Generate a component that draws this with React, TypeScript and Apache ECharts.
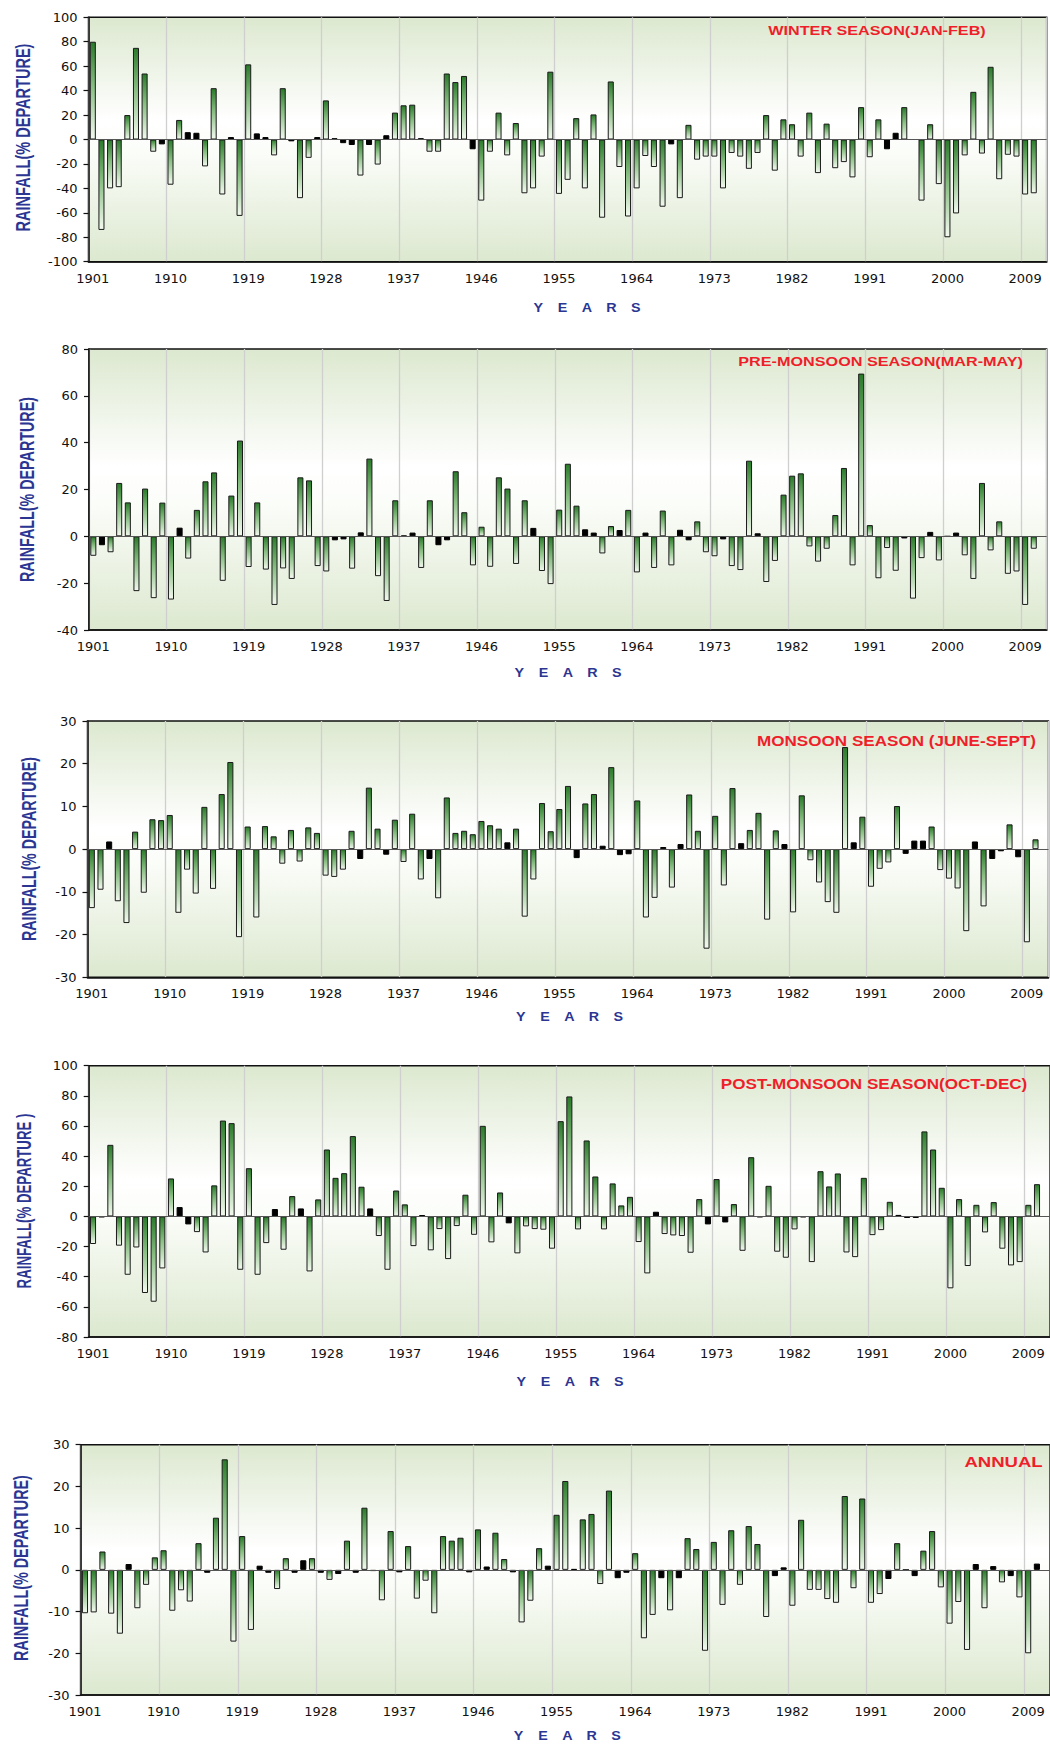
import { useEffect, useRef } from 'react';
import * as echarts from 'echarts';

// ---------- categories ----------
const FIRST_YEAR = 1901;
const LAST_YEAR = 2011;
const YEARS: string[] = [];
for (let y = FIRST_YEAR; y <= LAST_YEAR; y++) YEARS.push(String(y));

// ---------- series values (% departure), 1901..2010 ----------
const WINTER = [
  80, -74, -40, -39, 20, 75, 54, -10, -4, -37,
  16, 6, 5.5, -22, 42, -45, 2, -62.5, 61.5, 5,
  2, -13, 42, -1.5, -48, -15, 2, 32, 1, -3,
  -4.5, -29.5, -4.5, -20.5, 3.5, 22, 28, 28.5, 1, -10,
  -10, 54, 47, 52, -8, -50, -10, 22, -13, 13.5,
  -44, -40, -14, 55.5, -44.5, -33, 17.5, -40, 20.5, -64,
  47.5, -22.5, -63, -40, -13.5, -22.5, -55, -4, -48, 12,
  -16.5, -14, -14, -40, -11, -14, -24, -11, 20, -25.5,
  16.5, 12.5, -14, 22, -27.5, 13, -23.5, -18.5, -31, 26.5,
  -14.5, 16.5, -8, 5.5, 26.5, 0, -50, 12.5, -36.5, -80,
  -60.5, -13, 39, -11.5, 59.5, -32.5, -12.5, -14, -45, -44,
];
const PRE_MONSOON = [
  -8.3, -3.8, -6.8, 22.8, 14.5, -23.4, 20.4, -26.4, 14.4, -27,
  3.7, -9.5, 11.3, 23.5, 27.3, -19, 17.4, 40.9, -13.1, 14.5,
  -14.2, -29.3, -13.7, -18.2, 25.2, 23.9, -12.7, -15, -1.7, -1.3,
  -13.8, 1.7, 33.2, -17, -27.6, 15.4, 0.3, 1.6, -13.5, 15.4,
  -3.8, -1.7, 27.8, 10.3, -12.4, 4.1, -13, 25.2, 20.4, -11.8,
  15.4, 3.6, -14.8, -20.4, 11.4, 31, 13.1, 3, 1.6, -7.3,
  4.4, 2.7, 11.3, -15.4, 1.6, -13.5, 11, -12.4, 2.8, -1.7,
  6.4, -6.8, -8.5, -1.3, -12.7, -14.4, 32.3, 1.3, -19.5, -10.5,
  17.8, 25.9, 26.9, -4.3, -10.8, -5.3, 9.1, 29.2, -12.4, 69.5,
  4.8, -17.9, -5, -14.7, -0.9, -26.6, -9.3, 1.9, -10.3, 0,
  1.6, -8.1, -18.2, 22.8, -6, 6.4, -16, -15, -29.3, -5.3,
];
const MONSOON = [
  -13.8, -9.5, 1.8, -12.2, -17.3, 4.1, -10.2, 7, 6.8, 8,
  -14.9, -4.8, -10.4, 9.9, -9.3, 12.9, 20.4, -20.6, 5.3, -16,
  5.4, 3, -3.4, 4.5, -2.9, 5.1, 3.8, -6.2, -6.5, -4.8,
  4.3, -2.3, 14.4, 4.8, -1.3, 6.9, -3, 8.3, -7.1, -2.3,
  -11.5, 12.1, 3.8, 4.3, 3.5, 6.6, 5.6, 4.8, 1.6, 4.8,
  -15.8, -7.1, 10.8, 4.2, 9.4, 14.8, -2.1, 10.7, 12.9, 0.8,
  19.2, -1.4, -1.2, 11.4, -16, -11.4, 0.5, -9, 1.2, 12.8,
  4.3, -23.3, 7.8, -8.5, 14.3, 1.4, 4.5, 8.5, -16.5, 4.4,
  1.2, -14.8, 12.6, -2.6, -7.8, -12.4, -14.9, 23.9, 1.6, 7.6,
  -8.8, -4.6, -3.1, 10.1, -1.1, 2, 2, 5.3, -4.9, -6.9,
  -9.2, -19.2, 1.8, -13.4, -2.3, -0.5, 5.8, -1.9, -21.8, 2.3,
];
const POST_MONSOON = [
  -18.3, -0.5, 47.5, -19.4, -38.7, -20.6, -50.8, -56.6, -34.5, 25.2,
  6.2, -5.3, -10.4, -23.9, 20.6, 63.6, 61.9, -35.4, 32, -38.7,
  -17.7, 4.9, -22.1, 13.5, 5.3, -36.5, 11.3, 44.4, 25.6, 28.7,
  53.3, 19.7, 5.3, -13, -35.4, 17.2, 8, -19.7, 0.9, -22.5,
  -8.4, -28.3, -6.4, 14.4, -12.2, 60.1, -17.2, 15.9, -4.6, -24.5,
  -6.6, -8.4, -8.8, -21.4, 63.2, 79.6, -8.6, 50.4, 26.5, -8.6,
  21.9, 7.3, 13, -17, -37.8, 3.1, -11.7, -12.6, -13, -24.1,
  11.5, -5.3, 24.8, -4, 8.2, -22.8, 39.3, -0.5, 20.3, -23.4,
  -27.4, -8.6, -0.5, -30.3, 30, 19.9, 28.5, -23.9, -27, 25.6,
  -12.4, -9.1, 9.7, 1, -1, -1, 56.4, 44.4, 19, -47.7,
  11.5, -32.9, 7.7, -10.6, 9.5, -21.4, -32.5, -30.3, 7.7, 21.4,
];
const ANNUAL = [
  -10.4, -10.2, 4.4, -10.5, -15.3, 1.4, -9.2, -3.6, 3, 4.7,
  -9.8, -4.9, -7.6, 6.4, -0.7, 12.5, 26.5, -17.2, 8.1, -14.4,
  1, -0.7, -4.6, 2.8, -0.7, 2.3, 2.8, -0.7, -2.4, -1,
  7, -0.7, 14.9, -0.3, -7.3, 9.3, -0.6, 5.7, -6.9, -2.6,
  -10.4, 8.1, 7, 7.7, -0.6, 9.7, 0.8, 8.9, 2.6, -0.6,
  -12.6, -7.4, 5.2, 1, 13.2, 21.3, 0.2, 12.1, 13.4, -3.4,
  19, -2, -0.7, 4, -16.4, -10.8, -2, -9.7, -2, 7.6,
  5, -19.4, 6.7, -8.4, 9.5, -3.6, 10.5, 6.2, -11.3, -1.5,
  0.6, -8.6, 12, -4.8, -4.8, -7, -7.9, 17.7, -4.4, 17.1,
  -7.9, -5.8, -2.2, 6.4, 0, -1.5, 4.6, 9.3, -4.2, -12.9,
  -7.7, -19.2, 1.4, -9.2, 0.9, -3, -1.5, -6.6, -20, 1.5,
];

// ---------- years whose bars are drawn solid black ----------
const WINTER_BLACK = [1909, 1912, 1913, 1917, 1920, 1921, 1924, 1927, 1929, 1930, 1931, 1933, 1935, 1939, 1945, 1968, 1993, 1994];
const PRE_MONSOON_BLACK = [1902, 1911, 1929, 1930, 1932, 1937, 1938, 1941, 1942, 1952, 1958, 1959, 1962, 1965, 1969, 1970, 1974, 1978, 1995, 1998, 2001];
const MONSOON_BLACK = [1903, 1932, 1935, 1940, 1949, 1957, 1960, 1962, 1963, 1967, 1969, 1976, 1981, 1989, 1995, 1996, 1997, 2003, 2005, 2006, 2008];
const POST_MONSOON_BLACK = [1902, 1911, 1912, 1922, 1925, 1933, 1939, 1949, 1966, 1972, 1974, 1978, 1983, 1994, 1995, 1996];
const ANNUAL_BLACK = [1906, 1915, 1921, 1922, 1925, 1926, 1928, 1930, 1932, 1934, 1937, 1945, 1947, 1950, 1954, 1957, 1962, 1963, 1967, 1969, 1980, 1981, 1993, 1996, 2003, 2005, 2007, 2010];

// ---------- tick settings ----------
const Y_RANGES = [
  { min: -100, max: 100, interval: 20 },
  { min: -40, max: 80, interval: 20 },
  { min: -30, max: 30, interval: 10 },
  { min: -80, max: 100, interval: 20 },
  { min: -30, max: 30, interval: 10 },
];
const TITLES = [
  'WINTER SEASON(JAN-FEB)',
  'PRE-MONSOON SEASON(MAR-MAY)',
  'MONSOON SEASON (JUNE-SEPT)',
  'POST-MONSOON SEASON(OCT-DEC)',
  'ANNUAL',
];
const Y_NAMES = [
  'RAINFALL(% DEPARTURE)',
  'RAINFALL(% DEPARTURE)',
  'RAINFALL(% DEPARTURE)',
  'RAINFALL(% DEPARTURE )',
  'RAINFALL(% DEPARTURE)',
];
const X_NAME_LETTERS = ['Y', 'E', 'A', 'R', 'S'];

const SERIES = [WINTER, PRE_MONSOON, MONSOON, POST_MONSOON, ANNUAL];
const BLACKS = [WINTER_BLACK, PRE_MONSOON_BLACK, MONSOON_BLACK, POST_MONSOON_BLACK, ANNUAL_BLACK];

// ---------- layout (pixels) ----------
const LAYOUT = [
  { top: 17.3, height: 244.4, left: 88.5, right: 3.3, tR: 985.7, tY: 30.7, tSize: 12, tW: 217.7, yx: 22.9, yy: 137.5, yl: 188, ex: 587, ey: 308 },
  { top: 349, height: 281, left: 89, right: 3.3, tR: 1023, tY: 362, tSize: 13, tW: 285, yx: 26.7, yy: 489.5, yl: 185, ex: 568, ey: 673 },
  { top: 721, height: 256.3, left: 87.5, right: 1.5, tR: 1036, tY: 740.7, tSize: 14, tW: 279.3, yx: 28.9, yy: 849, yl: 184, ex: 569.5, ey: 1017 },
  { top: 1065.7, height: 271.3, left: 88.7, right: -0.7, tR: 1027.3, tY: 1084.3, tSize: 14, tW: 306.7, yx: 23.4, yy: 1201, yl: 175, ex: 570, ey: 1381.5 },
  { top: 1444.7, height: 250.3, left: 80.6, right: -2, tR: 1042.7, tY: 1461.7, tSize: 15, tW: 78.4, yx: 21.1, yy: 1568, yl: 186, ex: 567.3, ey: 1736 },
];

const SANS = '"Liberation Sans", Arial, Helvetica, sans-serif';
const TICK_FONT = '"DejaVu Sans", Verdana, sans-serif';
const NAVY = '#2b3592';
const RED = '#ee1f2a';

function measure(text: string, font: string): number {
  const ctx = document.createElement('canvas').getContext('2d');
  if (!ctx) return text.length * 8;
  ctx.font = font;
  return ctx.measureText(text).width;
}

const BAR_FILL = {
  type: 'linear', x: 0, y: 0, x2: 0, y2: 1,
  colorStops: [
    { offset: 0, color: '#2a7a2a' },
    { offset: 0.45, color: '#86bd80' },
    { offset: 1, color: '#f3faef' },
  ],
};
const PLOT_BG = {
  type: 'linear', x: 0, y: 0, x2: 0, y2: 1,
  colorStops: [
    { offset: 0, color: '#dce8cf' },
    { offset: 0.42, color: '#ffffff' },
    { offset: 0.55, color: '#fbfdf9' },
    { offset: 1, color: '#dce8cf' },
  ],
};

function buildOption() {
  const grid: any[] = [];
  const xAxis: any[] = [];
  const yAxis: any[] = [];
  const series: any[] = [];
  const graphic: any[] = [];

  LAYOUT.forEach((L, i) => {
    grid.push({
      show: true,
      top: L.top, height: L.height, left: L.left, right: L.right,
      backgroundColor: PLOT_BG,
      borderColor: '#111',
      borderWidth: 1.5,
    });
    xAxis.push({
      type: 'category',
      gridIndex: i,
      data: YEARS,
      boundaryGap: true,
      axisLine: { show: true, onZero: false, lineStyle: { color: '#111', width: 1.5 } },
      axisTick: { show: false },
      axisLabel: { interval: 8, margin: 10, color: '#111', fontSize: 13, fontFamily: TICK_FONT },
      splitLine: { show: true, interval: 8, lineStyle: { color: '#cfcfcf', width: 1.3 } },
    });
    yAxis.push({
      type: 'value',
      gridIndex: i,
      min: Y_RANGES[i].min, max: Y_RANGES[i].max, interval: Y_RANGES[i].interval,
      axisLine: { show: true, lineStyle: { color: '#111', width: 1.5 } },
      axisTick: { show: true, length: 5, inside: false, lineStyle: { color: '#111', width: 1.2 } },
      axisLabel: { margin: 11, color: '#111', fontSize: 13, fontFamily: TICK_FONT },
      splitLine: { show: false },
    });
    const blacks = BLACKS[i];
    series.push({
      type: 'bar',
      xAxisIndex: i,
      yAxisIndex: i,
      barCategoryGap: '30%',
      itemStyle: { color: BAR_FILL, borderColor: '#1a1a1a', borderWidth: 1 },
      data: SERIES[i].map((v, k) =>
        blacks.includes(FIRST_YEAR + k)
          ? { value: v, itemStyle: { color: '#000', borderColor: '#000' } }
          : v
      ),
      markLine: {
        silent: true,
        symbol: ['none', 'none'],
        label: { show: false },
        lineStyle: { color: '#555', width: 1, type: 'solid' },
        data: [{ yAxis: 0 }],
      },
    });

    // panel title (stretched horizontally like the source image)
    const tFont = `bold ${L.tSize}px ${SANS}`;
    const tNat = measure(TITLES[i], tFont);
    graphic.push({
      type: 'text',
      x: L.tR, y: L.tY,
      scaleX: L.tW / tNat,
      z: 100,
      style: {
        text: TITLES[i], fill: RED,
        fontSize: L.tSize, fontWeight: 'bold', fontFamily: SANS,
        textAlign: 'right', textVerticalAlign: 'middle', align: 'right', verticalAlign: 'middle',
      },
    });

    // y axis name (rotated, condensed)
    const ySize = 21;
    const yNat = measure(Y_NAMES[i], `bold ${ySize}px ${SANS}`);
    graphic.push({
      type: 'text',
      x: L.yx, y: L.yy,
      rotation: Math.PI / 2,
      scaleX: L.yl / yNat,
      style: {
        text: Y_NAMES[i], fill: NAVY,
        fontSize: ySize, fontWeight: 'bold', fontFamily: SANS,
        textAlign: 'center', textVerticalAlign: 'middle', align: 'center', verticalAlign: 'middle',
      },
    });

    // "Y E A R S"
    X_NAME_LETTERS.forEach((ch, j) => {
      graphic.push({
        type: 'text',
        x: L.ex + (j - 2) * 24.4, y: L.ey,
        scaleX: 1.1,
        style: {
          text: ch, fill: NAVY,
          fontSize: 13, fontWeight: 'bold', fontFamily: SANS,
          textAlign: 'center', textVerticalAlign: 'middle', align: 'center', verticalAlign: 'middle',
        },
      });
    });
  });

  return {
    animation: false,
    backgroundColor: '#ffffff',
    grid, xAxis, yAxis, series, graphic,
  };
}

export default function App() {
  const ref = useRef<HTMLDivElement>(null);
  useEffect(() => {
    if (!ref.current) return;
    const chart = echarts.init(ref.current, undefined, { renderer: 'svg' });
    chart.setOption(buildOption() as any);
    return () => chart.dispose();
  }, []);
  return (
    <div
      ref={ref}
      style={{ position: 'absolute', left: 0, top: 0, width: 1050, height: 1744, background: '#fff' }}
    />
  );
}
